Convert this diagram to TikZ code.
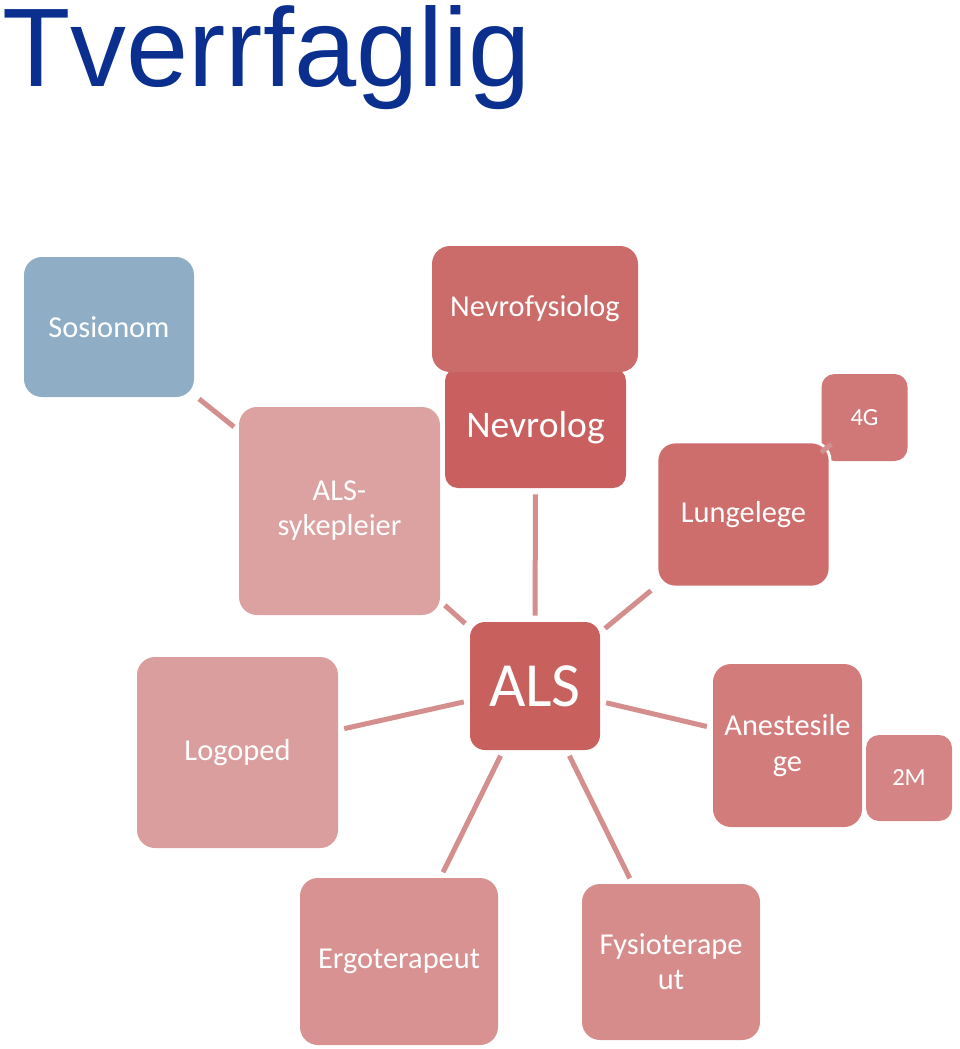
\documentclass[tikz,border=0pt]{standalone}
\usepackage{fontspec}
\setmainfont{Carlito}
\newfontfamily\titlefont{Liberation Sans}
\definecolor{titleblue}{HTML}{0B2F8F}
\definecolor{sosiblue}{HTML}{8FAEC5}
\definecolor{linkred}{HTML}{D58E8E}
\definecolor{nevred}{HTML}{C95F5E}
\definecolor{fysred}{HTML}{CB6B6A}
\definecolor{sykered}{HTML}{DCA1A1}
\definecolor{fourgred}{HTML}{D07878}
\definecolor{lungered}{HTML}{CD6E6D}
\definecolor{alsred}{HTML}{C8605E}
\definecolor{logored}{HTML}{DA9E9E}
\definecolor{anered}{HTML}{D37C7C}
\definecolor{twomred}{HTML}{D48484}
\definecolor{ergored}{HTML}{D89292}
\definecolor{fysiored}{HTML}{D78C8C}
\tikzset{
  tile/.style={rectangle, rounded corners=3.6mm, inner sep=0pt, text=white, align=center, font=\fontsize{17.3}{20}\selectfont},
  tag/.style={tile, rounded corners=2.6mm, minimum width=86*0.2mm, minimum height=86*0.2mm, font=\fontsize{14}{16}\selectfont},
  link/.style={draw=linkred, line width=1mm, shorten <=1.2mm, shorten >=1.2mm}
}
\begin{document}
\begin{tikzpicture}[x=0.2mm, y=-0.2mm]
  \useasboundingbox (0,0) rectangle (960,1049);
  \node[anchor=base west, text=titleblue, inner sep=0pt, font=\titlefont\fontsize{63.6}{70}\selectfont] (title) at (2,86) {Tverrfaglig};
  % outer ring
  \node[tile, fill=sosiblue, minimum width=170*0.2mm, minimum height=140*0.2mm] (sosionom) at (109,327) {Sosionom};
  \node[tile, fill=nevred, rounded corners=2.6mm, minimum width=181*0.2mm, minimum height=120*0.2mm, font=\fontsize{21.4}{24}\selectfont] (nevrolog) at (535.5,428) {Nevrolog};
  \node[tile, fill=fysred, minimum width=206*0.2mm, minimum height=126*0.2mm] (nevrofys) at (535,309) {Nevrofysiolog};
  \node[tile, fill=sykered, minimum width=201*0.2mm, minimum height=208*0.2mm] (sykepleier) at (339.5,511) {ALS-\\sykepleier};
  \node[tag, fill=fourgred, minimum height=87*0.2mm] (fourg) at (864.5,417.5) {4G};
  \node[tile, fill=lungered, draw=white, line width=1.6pt, minimum width=173*0.2mm, minimum height=145*0.2mm] (lunge) at (743.5,514.5) {Lungelege};
  \node[tile, fill=alsred, rounded corners=3mm, minimum width=130*0.2mm, minimum height=128*0.2mm, font=\fontsize{35.8}{40}\selectfont] (als) at (535,686) {ALS};
  \node[tile, fill=logored, minimum width=201*0.2mm, minimum height=191*0.2mm] (logoped) at (237.5,752.5) {Logoped};
  \node[tile, fill=anered, minimum width=149*0.2mm, minimum height=163*0.2mm] (anestesi) at (787.5,745.5) {Anestesile\\ge};
  \node[tag, fill=twomred] (twom) at (909,778) {2M};
  \node[tile, fill=ergored, minimum width=198*0.2mm, minimum height=167*0.2mm] (ergo) at (399,961.5) {Ergoterapeut};
  \node[tile, fill=fysiored, minimum width=178*0.2mm, minimum height=156*0.2mm] (fysio) at (671,962) {Fysioterape\\ut};
  % spokes
  \draw[link] (als) -- (nevrolog);
  \draw[link] (als) -- (sykepleier);
  \draw[link] (als) -- (lunge);
  \draw[link] (als) -- (logoped);
  \draw[link] (als) -- (anestesi);
  \draw[link] (als) -- (ergo);
  \draw[link] (als) -- (fysio);
  \draw[link] (sosionom) -- (sykepleier);
  \draw[link, shorten <=0pt, shorten >=0pt] (fourg) -- (lunge);
\end{tikzpicture}
\end{document}
